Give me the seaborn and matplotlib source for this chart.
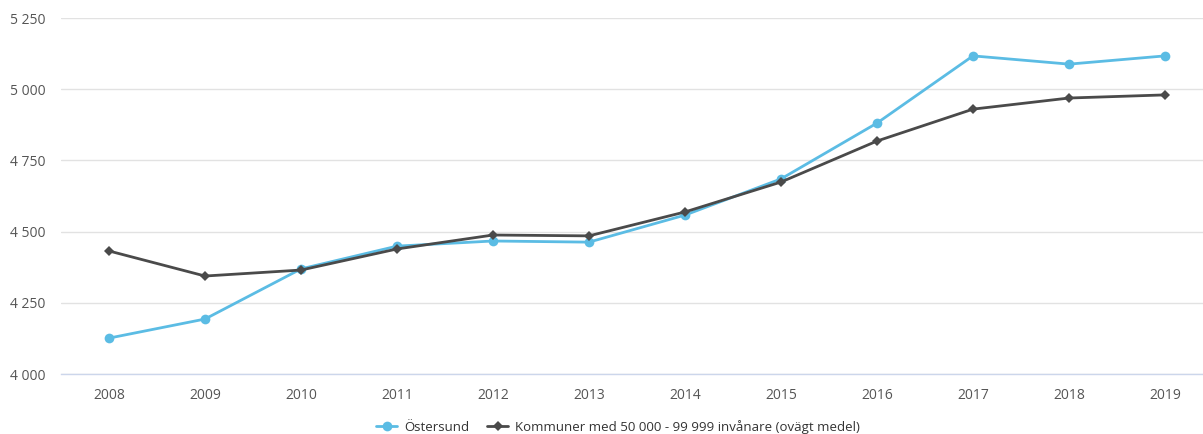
import matplotlib
matplotlib.use("Agg")
import matplotlib.pyplot as plt
import seaborn as sns
import pandas as pd
from matplotlib.ticker import FuncFormatter
from matplotlib.lines import Line2D

years = [2008, 2009, 2010, 2011, 2012, 2013, 2014, 2015, 2016, 2017, 2018, 2019]
ostersund = [4126, 4193, 4369, 4449, 4467, 4463, 4558, 4685, 4881, 5117, 5088, 5117]
kommuner = [4432, 4344, 4365, 4439, 4488, 4485, 4569, 4674, 4818, 4930, 4969, 4980]
series_names = ["Östersund", "Kommuner med 50 000 - 99 999 invånare (ovägt medel)"]
y_ticks = [4000, 4250, 4500, 4750, 5000, 5250]

sns.set_theme(style="white")
plt.rcParams["font.family"] = ["Open Sans", "DejaVu Sans"]

df = pd.DataFrame({
    "pos": list(range(len(years))) * 2,
    "value": ostersund + kommuner,
    "serie": [series_names[0]] * len(years) + [series_names[1]] * len(years),
})

W, H = 1203, 434
fig = plt.figure(figsize=(W / 100, H / 100), dpi=100)
ax = fig.add_axes([61 / W, 1 - 374 / H, (1203 - 61) / W, (374 - 18) / H])

palette = {series_names[0]: "#5bbce4", series_names[1]: "#4a4a4a"}
sns.lineplot(data=df, x="pos", y="value", hue="serie", style="serie",
             markers={series_names[0]: "o", series_names[1]: "D"},
             dashes=False, palette=palette, linewidth=2, markersize=7,
             markeredgewidth=0, ax=ax, legend=False)
# smaller diamonds for the average series
for line in ax.lines:
    if line.get_marker() == "D":
        line.set_markersize(5.5)

ax.set_xlim(-0.5, (1203 - 109) / 96)
ax.set_ylim(4000, 5250)
ax.set_yticks(y_ticks)
ax.yaxis.set_major_formatter(FuncFormatter(lambda v, p: f"{int(v):,}".replace(",", " ")))
ax.set_xticks(range(len(years)))
ax.set_xticklabels([str(y) for y in years])
ax.grid(axis="y", color="#e2e2e2", linewidth=1)
ax.grid(axis="x", visible=False)
for s in ["top", "right", "left"]:
    ax.spines[s].set_visible(False)
ax.spines["bottom"].set_color("#ccd6eb")
ax.spines["bottom"].set_linewidth(1)
ax.tick_params(axis="both", length=0, labelsize=10, colors="#555555")
ax.tick_params(axis="y", pad=11)
ax.tick_params(axis="x", pad=10)
ax.set_xlabel("")
ax.set_ylabel("")

handles = [
    Line2D([], [], color=palette[series_names[0]], marker="o", markersize=7, linewidth=2, markeredgewidth=0),
    Line2D([], [], color=palette[series_names[1]], marker="D", markersize=5, linewidth=2, markeredgewidth=0),
]
fig.legend(handles, series_names, loc="center", bbox_to_anchor=(618 / W, 1 - 427 / H),
           ncol=2, frameon=False, fontsize=9.5, handlelength=1.6, columnspacing=1.4,
           handletextpad=0.5, labelcolor="#333333")

fig.savefig("out.png", dpi=100)
